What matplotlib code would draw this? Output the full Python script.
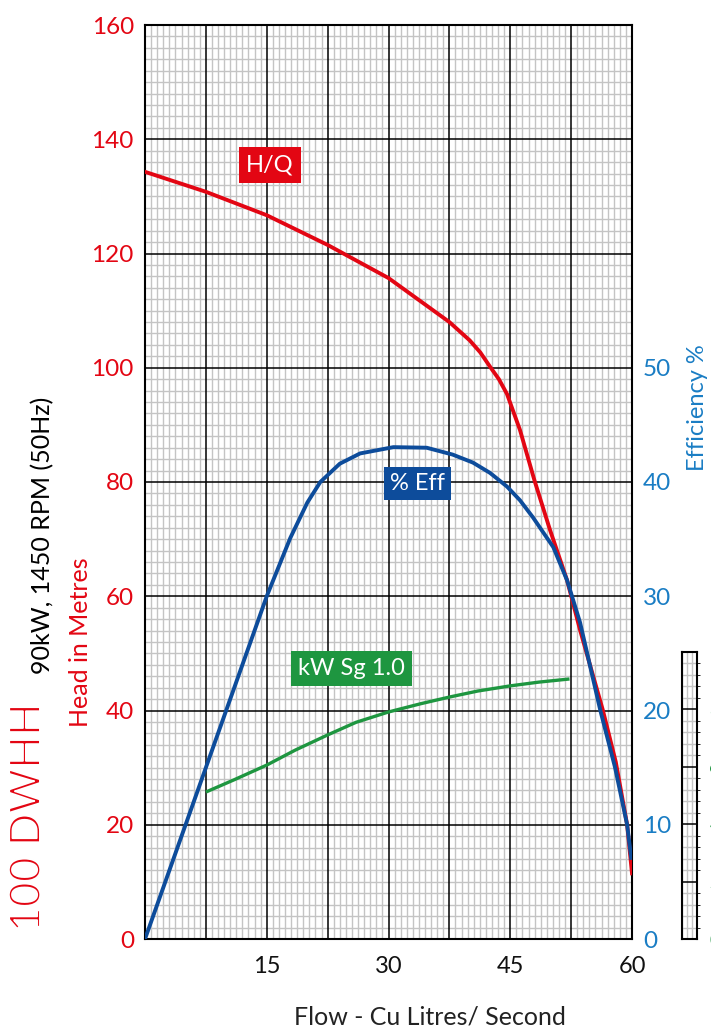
import numpy as np
import matplotlib.pyplot as plt
import matplotlib.patheffects as pe
from matplotlib.ticker import MultipleLocator

plt.rcParams['font.family'] = ['Lato', 'DejaVu Sans']

# H/Q curve (head in metres vs flow l/s)
flow_hq = [0, 7.5, 15, 22.5, 30, 37.5, 40.0, 41.3, 42.5, 43.6, 44.6, 46.2, 48.0, 49.9, 52.0, 53.6, 56.4, 58.0,
           59.4, 60]
head_hq = [134.3, 130.8, 126.7, 121.5, 115.7, 108.0, 104.8, 102.7, 100.2, 98.0, 95.4, 89.1, 80.2, 71.6, 62.8,
           54.1, 40.1, 31.0, 20.0, 11.5]

# efficiency curve (%)
flow_eff = [0, 7.5, 15, 17.9, 20, 21.6, 24, 26.5, 30.6, 34.7, 37.9, 40.4, 42.5, 44.6, 46.2, 47.8, 50.3, 52.0,
            53.6, 56.1, 57.9, 59.4, 59.9]
eff = [0, 15.0, 30.0, 35.1, 38.2, 40.0, 41.6, 42.5, 43.05, 43.0, 42.4, 41.7, 40.8, 39.6, 38.4, 36.9, 34.3,
       31.4, 27.7, 20.0, 15.05, 10.0, 7.1]

# power curve (kW, Sg 1.0)
flow_kw = [7.5, 11, 15, 18.5, 22.5, 26, 30, 34, 37.5, 41, 45, 48.5, 52.3]
kw = [51.2, 55.5, 60.6, 65.8, 71.1, 75.5, 79.1, 82.0, 84.3, 86.4, 88.2, 89.5, 90.6]

head_ticks = [0, 20, 40, 60, 80, 100, 120, 140, 160]
eff_ticks = [0, 10, 20, 30, 40, 50]
flow_ticks = [15, 30, 45, 60]
kw_ticks = [0, 20, 40, 60, 80, 100]

red = '#e30613'
blue = '#0d4c9b'
lblue = '#1a7dc4'
green = '#1e9640'

fig = plt.figure(figsize=(7.11, 10.29), dpi=100)
ax = fig.add_axes([145 / 711, 90 / 1029, 487 / 711, 914 / 1029])

ax.set_xlim(0, 60)
ax.set_ylim(0, 160)
ax.xaxis.set_major_locator(MultipleLocator(7.5))
ax.xaxis.set_minor_locator(MultipleLocator(0.75))
ax.yaxis.set_major_locator(MultipleLocator(20))
ax.yaxis.set_minor_locator(MultipleLocator(2))
ax.grid(which='minor', color='#c4c4c4', lw=1.0)
ax.set_axisbelow(True)
# heavy lines every major step, drawn above the fine grid
for xv in np.arange(7.5, 60, 7.5):
    ax.axvline(xv, color='black', lw=1.1, zorder=1)
for yv in range(20, 160, 20):
    ax.axhline(yv, color='black', lw=1.1, zorder=1)
ax.tick_params(which='both', length=0)
for s in ax.spines.values():
    s.set_color('black')
    s.set_linewidth(1.5)

ax.set_yticks(head_ticks)
ax.set_yticklabels([str(t) for t in head_ticks], color=red, fontsize=17.5)
ax.tick_params(axis='y', pad=8)
ax.set_xticks(np.arange(0, 60.1, 7.5))
ax.set_xticklabels(['' if t not in flow_ticks else str(int(t)) for t in np.arange(0, 60.1, 7.5)],
                   fontsize=17, color='#111111')
ax.tick_params(axis='x', pad=12)
fig.text(430 / 711, 1 - 1017 / 1029, 'Flow - Cu Litres/ Second', fontsize=18, color='#222222',
         ha='center', va='center')

# kW twin (scaled so 100 kW lines up with the side strip)
axk = ax.twinx()
axk.set_ylim(0, 100 * 914 / 287)
axk.axis('off')
axk.plot(flow_kw, kw, color=green, lw=2.4, solid_capstyle='butt')

ax.plot(flow_hq, head_hq, color=red, lw=2.8, zorder=3)

axe = ax.twinx()
axe.set_ylim(0, 80)
axe.set_yticks(eff_ticks)
axe.set_yticklabels([str(t) for t in eff_ticks], color=lblue, fontsize=17.5)
axe.tick_params(length=0, pad=8)
for s in axe.spines.values():
    s.set_visible(False)
axe.plot(flow_eff, eff, color=blue, lw=2.8, zorder=4)
fig.text(697 / 711, 1 - 408 / 1029, 'Efficiency %', rotation=90, color=lblue, fontsize=17,
         ha='center', va='center')

# curve labels
ax.text(15.4, 135.5, 'H/Q', color='white', fontsize=17, ha='center', va='center', zorder=6,
        bbox=dict(boxstyle='square,pad=0.3', fc=red, ec='none'))
axe.text(33.6, 39.9, '% Eff', color='white', fontsize=17, ha='center', va='center', zorder=6,
         bbox=dict(boxstyle='square,pad=0.25', fc=blue, ec='none'))
ax.text(25.4, 47.3, 'kW Sg 1.0', color='white', fontsize=17, ha='center', va='center', zorder=6,
        bbox=dict(boxstyle='square,pad=0.3', fc=green, ec='none'))

# left side titles (model name drawn thin: white outline eats into the strokes)
fig.text(28 / 711, 1 - 818 / 1029, '100 DWHH', rotation=90, color=red, fontsize=31,
         ha='center', va='center',
         path_effects=[pe.Normal(), pe.Stroke(linewidth=1.4, foreground='white')])
fig.text(43 / 711, 1 - 535 / 1029, '90kW, 1450 RPM (50Hz)', rotation=90, color='black',
         fontsize=18, ha='center', va='center')
fig.text(80 / 711, 1 - 642 / 1029, 'Head in Metres', rotation=90, color=red,
         fontsize=18, ha='center', va='center')

# kW scale strip at far right (labels run off the page)
axs = fig.add_axes([682 / 711, 90 / 1029, 15 / 711, 287 / 1029])
axs.set_xlim(0, 1)
axs.set_ylim(0, 100)
axs.xaxis.set_major_locator(MultipleLocator(0.34))
axs.yaxis.set_major_locator(MultipleLocator(20))
axs.yaxis.set_minor_locator(MultipleLocator(4))
axs.grid(which='minor', axis='y', color='#c4c4c4', lw=1.0)
axs.grid(which='major', axis='x', color='#c4c4c4', lw=1.0)
axs.set_axisbelow(True)
for yv in range(20, 100, 20):
    axs.axhline(yv, color='black', lw=1.1, zorder=1)
axs.set_xticklabels([])
axs.yaxis.tick_right()
axs.set_yticks(kw_ticks)
axs.set_yticklabels([str(t) for t in kw_ticks], color=green, fontsize=13)
axs.tick_params(length=0, pad=9)
for s in axs.spines.values():
    s.set_color('black')
    s.set_linewidth(1.5)

fig.savefig('out.png', dpi=100)
